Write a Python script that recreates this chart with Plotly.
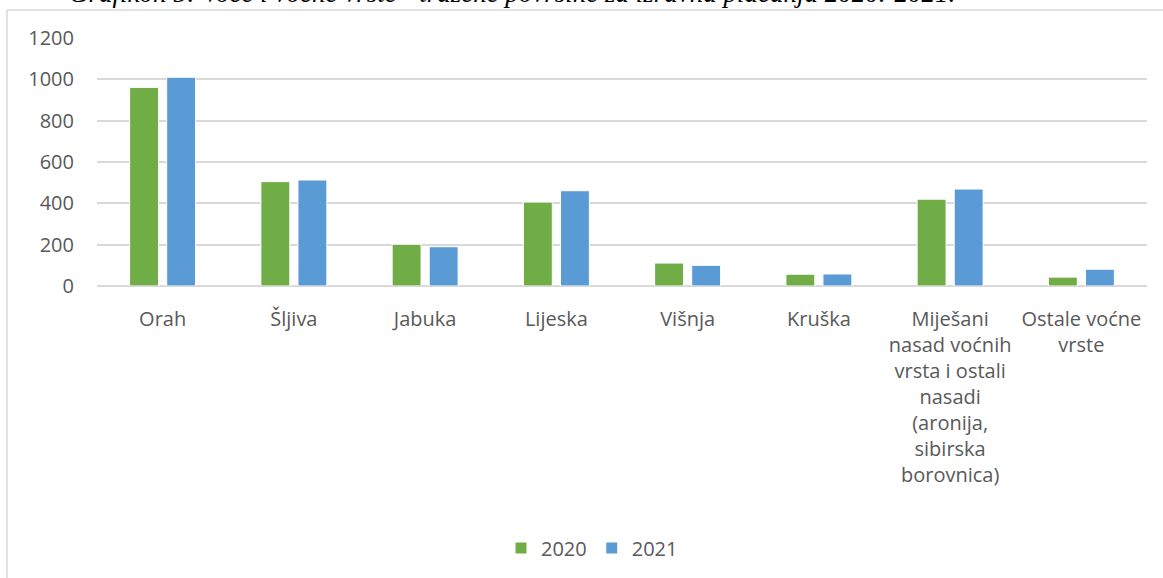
import plotly.graph_objects as go

categories = ["Orah", "Šljiva", "Jabuka", "Lijeska", "Višnja", "Kruška",
              "Miješani<br>nasad voćnih<br>vrsta i ostali<br>nasadi<br>(aronija,<br>sibirska<br>borovnica)",
              "Ostale voćne<br>vrste"]
values_2020 = [961, 505, 202, 406, 111, 57, 420, 43]
values_2021 = [1010, 513, 190, 461, 100, 58, 469, 81]
ytickvals = [0, 200, 400, 600, 800, 1000, 1200]

font_name = "Open Sans"
grey = "#595959"

fig = go.Figure()
fig.add_trace(go.Bar(x=categories, y=values_2020, name="2020",
                     marker=dict(color="#70AD47", line=dict(color="white", width=1))))
fig.add_trace(go.Bar(x=categories, y=values_2021, name="2021",
                     marker=dict(color="#5B9BD5", line=dict(color="white", width=1))))

# plot area: x 97..1147, y 38..286 (pixels)
L, T, B = 97, 38, 292
W, H = 1163 - L - 16, 578 - T - B

def px(x):
    return (x - L) / W

def py(y):
    return (T + H - y) / H

fig.update_layout(
    width=1163, height=578,
    margin=dict(l=L, r=16, t=T, b=B, autoexpand=False),
    paper_bgcolor="white", plot_bgcolor="white",
    barmode="group", bargap=0.435, bargroupgap=0.22,
    font=dict(family=font_name, size=20, color=grey),
    showlegend=True,
    legend=dict(orientation="h", x=px(592), xanchor="center", y=py(548), yanchor="middle",
                font=dict(size=20, color=grey), traceorder="normal",
                itemwidth=30, tracegroupgap=0),
    xaxis=dict(showgrid=False, showline=False, ticks="", tickangle=0,
               ticklabelstandoff=19),
    yaxis=dict(range=[0, 1200], tickvals=ytickvals, showgrid=True,
               gridcolor="#D9D9D9", gridwidth=1.5, zeroline=True,
               zerolinecolor="#D9D9D9", zerolinewidth=1.5, showline=False,
               ticks="", ticklabelstandoff=22),
)

# outer chart frame (only the left and top edges are visible in the crop)
frame = dict(color="#D9D9D9", width=1.5)
fig.add_shape(type="line", xref="paper", yref="paper",
              x0=px(7), x1=px(7), y0=py(10), y1=py(600), line=frame)
fig.add_shape(type="line", xref="paper", yref="paper",
              x0=px(7), x1=px(1170), y0=py(10), y1=py(10), line=frame)

# caption above the chart, mostly cut off at the top edge (as in the source)
fig.add_annotation(
    text="<i>Grafikon 5: Voće i voćne vrste - tražene površine za izravna plaćanja 2020.-2021.</i>",
    xref="paper", yref="paper", x=px(67), xanchor="left", y=py(10), yanchor="bottom",
    showarrow=False, font=dict(family="Liberation Serif", size=27, color="black"),
)

# drop the browser's default 8px body margin so the figure sits at 0,0
fig.write_html("out.html", config={"displayModeBar": False},
               post_script="document.body.style.margin='0';")
